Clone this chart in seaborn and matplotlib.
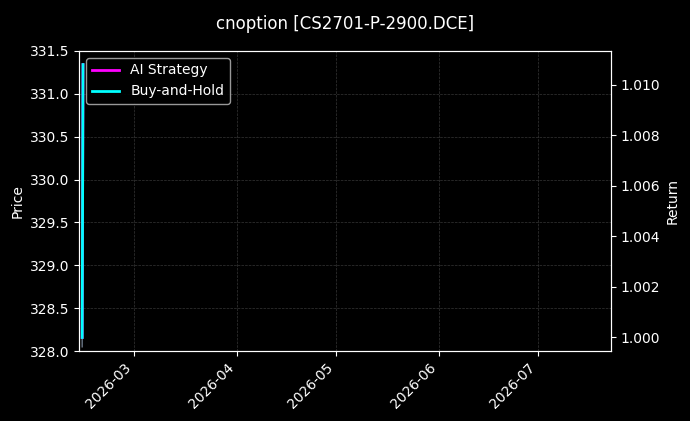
import pandas as pd
import numpy as np
import matplotlib
matplotlib.use('Agg')
import matplotlib.pyplot as plt
import matplotlib.dates as mdates
import seaborn as sns

# Data
dates = ['2026-02-13 09:00', '2026-02-13 15:00']
price = [328.05, 331.35]
ai_strategy = [1.0, 1.0108]
buy_hold = [1.0, 1.0108]
x_range = ['2026-02-12 10:00', '2026-07-23 00:00']

df = pd.DataFrame({
    'date': pd.to_datetime(dates),
    'price': price,
    'ai': ai_strategy,
    'bh': buy_hold,
})

plt.style.use('dark_background')
plt.rcParams['font.family'] = ['DejaVu Sans']

fig, ax1 = plt.subplots(figsize=(6.9, 4.21), dpi=100)
fig.subplots_adjust(left=0.1145, right=0.8855, top=0.879, bottom=0.166)

sns.lineplot(data=df, x='date', y='price', ax=ax1, color='#b0c4de', linewidth=1.0, alpha=0.6)
ax1.set_ylim(328.0, 331.5)
ax1.set_ylabel('Price')
ax1.set_xlabel('')
ax1.grid(True, linestyle='--', linewidth=0.5, color='#444444', alpha=0.8)

ax2 = ax1.twinx()
sns.lineplot(data=df, x='date', y='ai', ax=ax2, color='magenta', linewidth=2, label='AI Strategy')
sns.lineplot(data=df, x='date', y='bh', ax=ax2, color='cyan', linewidth=2, label='Buy-and-Hold')
ax2.set_ylabel('Return')
ax2.set_xlabel('')
ax2.grid(False)

ax1.set_xlim(pd.to_datetime(x_range[0]), pd.to_datetime(x_range[1]))
ax1.xaxis.set_major_locator(mdates.MonthLocator())
ax1.xaxis.set_major_formatter(mdates.DateFormatter('%Y-%m'))
for lbl in ax1.get_xticklabels():
    lbl.set_rotation(45)
    lbl.set_ha('right')

leg = ax2.legend(loc='upper left', facecolor='black', edgecolor='#aaaaaa', framealpha=0.9)

fig.suptitle('cnoption [CS2701-P-2900.DCE]', fontsize=12, y=0.965)

plt.savefig('out.png', dpi=100, facecolor='black')
